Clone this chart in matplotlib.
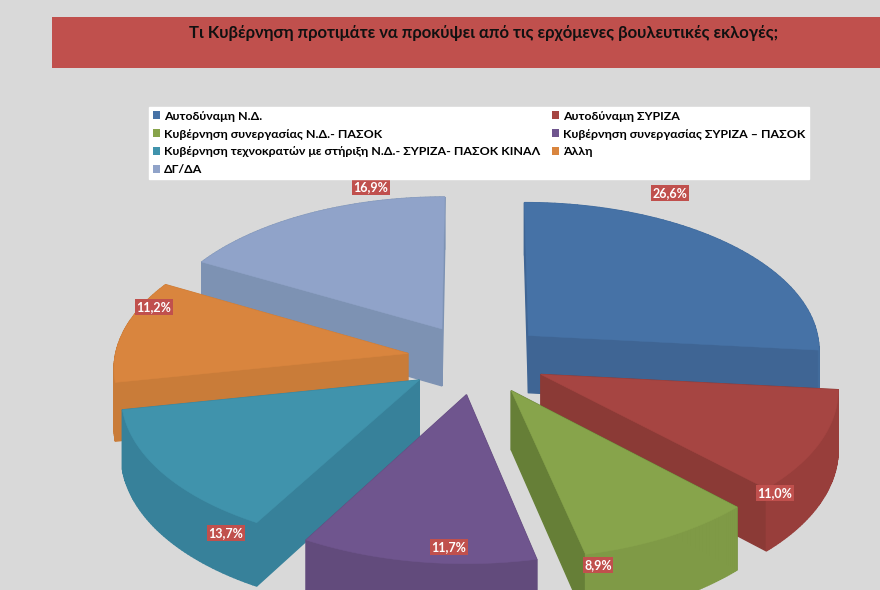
import numpy as np
import matplotlib
matplotlib.use("Agg")
import matplotlib.pyplot as plt
from matplotlib.patches import Polygon, Patch, Rectangle

title = "Τι Κυβέρνηση προτιμάτε να προκύψει από τις ερχόμενες βουλευτικές εκλογές;"
categories = ["Αυτοδύναμη Ν.Δ.", "Αυτοδύναμη ΣΥΡΙΖΑ", "Κυβέρνηση συνεργασίας Ν.Δ.- ΠΑΣΟΚ",
              "Κυβέρνηση συνεργασίας ΣΥΡΙΖΑ – ΠΑΣΟΚ",
              "Κυβέρνηση τεχνοκρατών με στήριξη Ν.Δ.- ΣΥΡΙΖΑ- ΠΑΣΟΚ ΚΙΝΑΛ", "Άλλη", "ΔΓ/ΔΑ"]
values = [26.6, 11.0, 8.9, 11.7, 13.7, 11.2, 16.9]

top_colors = ["#4672a6", "#a64542", "#87a44b", "#6f558e", "#4093ac", "#d9853e", "#90a3c9"]
arc_colors = ["#426b9b", "#983e3b", "#7f9a46", "#624b7c", "#37819a", "#c97c39", "#8095b5"]
radial_colors = ["#3f6594", "#8b3a36", "#667f37", "#624b7c", "#37819a", "#c97c39", "#7d92b3"]
label_xy = [(670, 193), (775, 493), (598, 565), (449, 547), (226, 533), (154, 307), (371, 187)]

# projection of the tilted pie, in pixels
cx, cy = 477, 359
rx, ry = 293, 148
persp = 0.085
explode = 0.24
depth = 58


def project(u, v):
    w = 1 / (1 + persp * v)
    return cx + rx * u * w, cy - ry * v * w, depth * w


fig = plt.figure(figsize=(8.8, 5.9), dpi=100, facecolor="#d9d9d9")
ax = fig.add_axes([0, 0, 1, 1])
ax.set_xlim(0, 880)
ax.set_ylim(590, 0)
ax.axis("off")

edges = np.cumsum([0] + values) / sum(values) * 2 * np.pi
slices = []
for i in range(len(values)):
    mid = (edges[i] + edges[i + 1]) / 2
    ox, oy = explode * np.sin(mid), explode * np.cos(mid)
    t = np.linspace(edges[i], edges[i + 1], 60)
    u = np.r_[ox, ox + np.sin(t)]
    v = np.r_[oy, oy + np.cos(t)]
    slices.append((oy, i, u, v))

# back slices first so the front ones cover them
for oy, i, u, v in sorted(slices, key=lambda s: -s[0]):
    x, y, d = project(u, v)
    n = len(x)
    quads = []
    for a in range(n):
        b = (a + 1) % n
        color = radial_colors[i] if a == 0 or b == 0 else arc_colors[i]
        quad = [(x[a], y[a]), (x[b], y[b]), (x[b], y[b] + d[b]), (x[a], y[a] + d[a])]
        quads.append((y[a] + y[b], quad, color))
    quads.sort(key=lambda q: q[0])
    for _, quad, color in quads:
        ax.add_patch(Polygon(quad, closed=True, fc=color, ec=color, lw=1.0, zorder=2))
    ax.add_patch(Polygon(np.c_[x, y], closed=True, fc=top_colors[i], ec=top_colors[i], lw=0.4, zorder=2))

for val, (lx, ly) in zip(values, label_xy):
    ax.text(lx, ly, f"{val:.1f}".replace(".", ",") + "%", color="white", fontsize=9, fontweight="bold",
            family="Lato", ha="center", va="center", zorder=3,
            bbox=dict(fc="#c0504d", ec="none", pad=1.2))

# title band
ax.add_patch(Rectangle((52, 17), 828, 51, fc="#c0504d", ec="none", zorder=1))
ax.text(484, 33, title, fontsize=12, fontweight="bold", family="Lato", color="#111111",
        ha="center", va="center", zorder=2)

# legend fills by column, the reference reads by row
order = [0, 2, 4, 6, 1, 3, 5]
handles = [Patch(fc=top_colors[i], ec="none", label=categories[i]) for i in order]
leg = ax.legend(handles=handles, ncol=2, loc="upper left", bbox_to_anchor=(149 / 880, 1 - 107 / 590),
                fancybox=False, framealpha=1, facecolor="white", edgecolor="white",
                prop=dict(family="Lato", size=8.95, weight="bold"), handlelength=0.6, handleheight=0.6,
                handletextpad=0.32, labelspacing=0.55, columnspacing=0.9, borderpad=0.3, borderaxespad=0)
leg.set_zorder(5)

fig.savefig("out.png", dpi=100, facecolor=fig.get_facecolor())
